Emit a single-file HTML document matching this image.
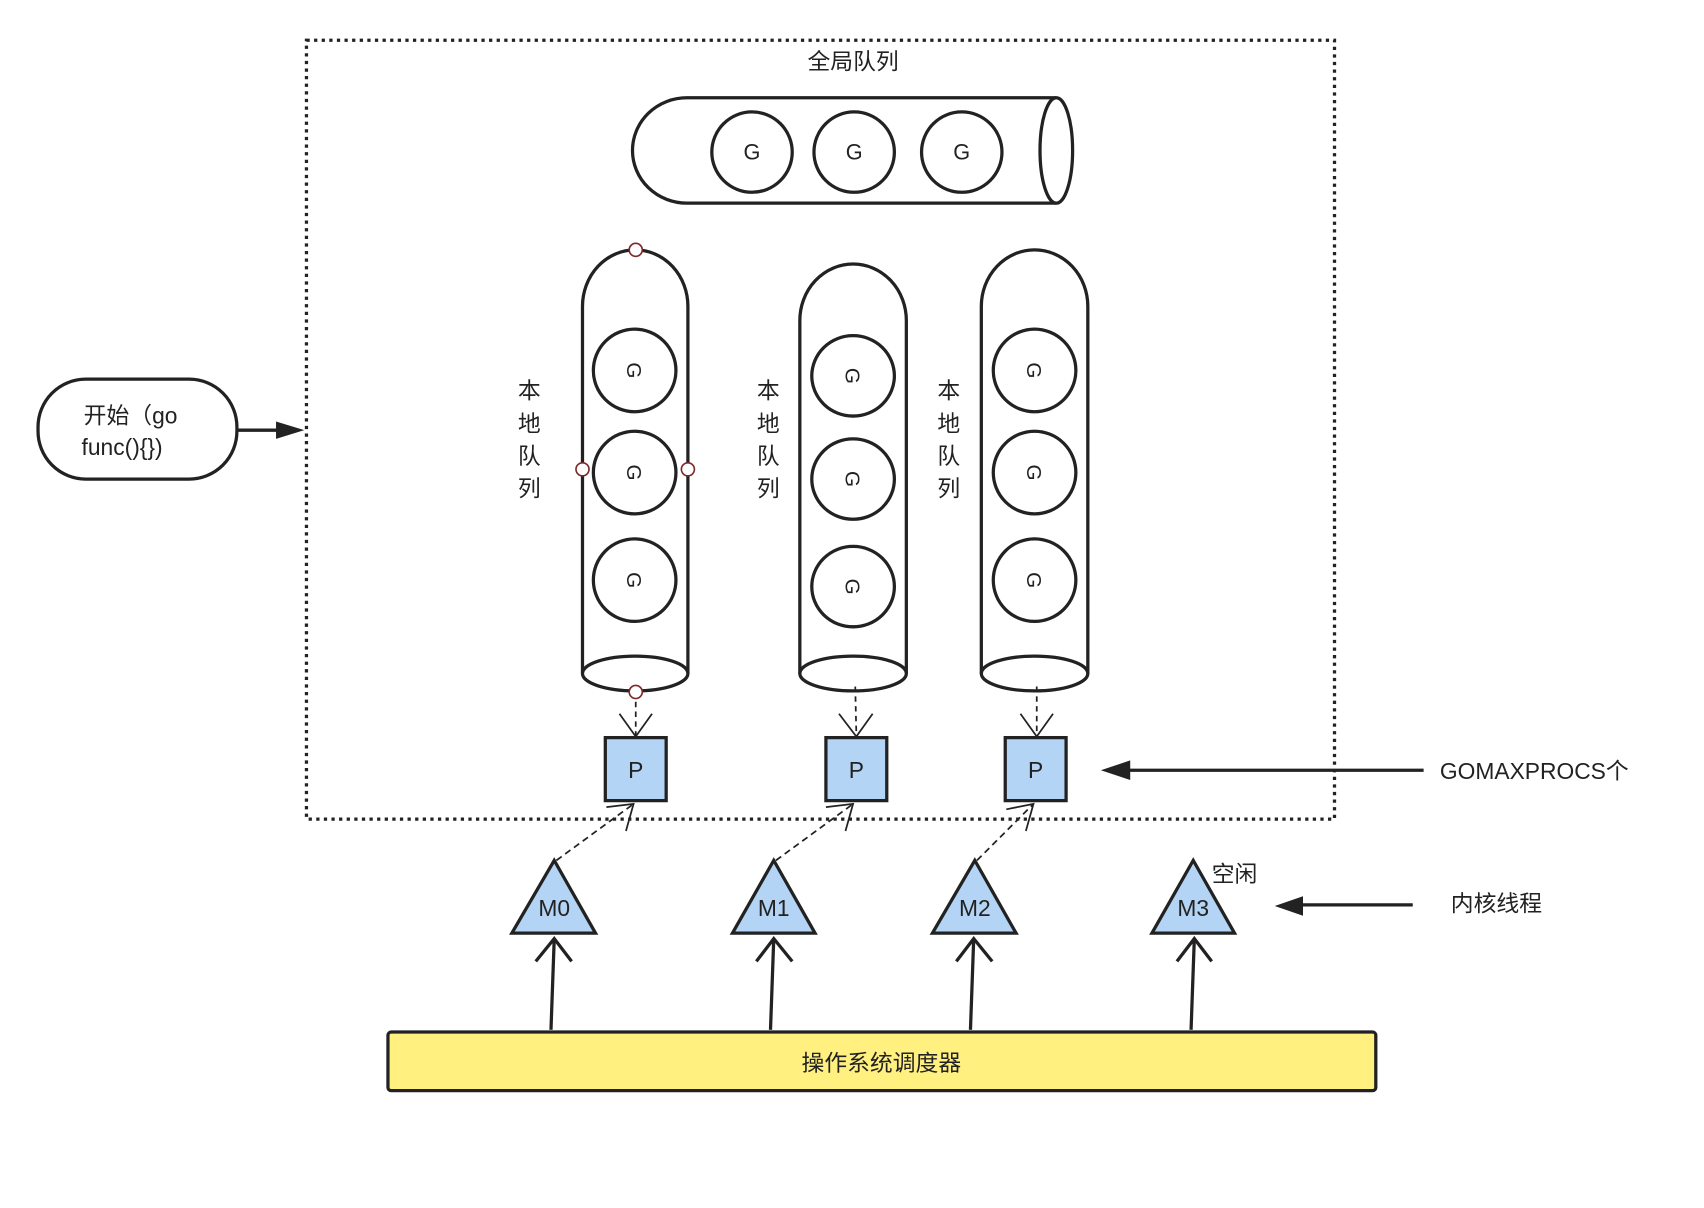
<!DOCTYPE html>
<html><head><meta charset="utf-8"><style>
html,body{margin:0;padding:0;background:#fff;}
svg{display:block;}
text{font-family:"Liberation Sans","Noto Sans CJK SC",sans-serif;fill:#222;}
</style></head><body>
<svg width="1704" height="1208" viewBox="0 0 1568 1112" preserveAspectRatio="none" xmlns="http://www.w3.org/2000/svg">
<rect x="282" y="37" width="946" height="717" fill="none" stroke="#222" stroke-width="3" stroke-dasharray="3,4"/>
<text x="785" y="64" font-size="21" text-anchor="middle">全局队列</text>
<path d="M972 90 L632 90 A50 48.5 0 0 0 632 187 L972 187" fill="#fff" stroke="#222" stroke-width="3"/>
<ellipse cx="972" cy="138.5" rx="15" ry="48.5" fill="#fff" stroke="#222" stroke-width="3"/>
<g fill="#fff" stroke="#222" stroke-width="3">
<circle cx="692" cy="140" r="37"/><circle cx="786" cy="140" r="37"/><circle cx="885" cy="140" r="37"/>
</g>
<g font-size="20" text-anchor="middle"><text x="692" y="147">G</text><text x="786" y="147">G</text><text x="885" y="147">G</text></g>
<g fill="#fff" stroke="#222" stroke-width="3">
<path d="M536 620 V282 A48.5 52 0 0 1 633 282 V620"/>
<ellipse cx="584.5" cy="620" rx="48.5" ry="16"/>
<path d="M736 620 V295 A49 52 0 0 1 834 295 V620"/>
<ellipse cx="785" cy="620" rx="49" ry="16"/>
<path d="M903 620 V282 A49 52 0 0 1 1001 282 V620"/>
<ellipse cx="952" cy="620" rx="49" ry="16"/>
<ellipse cx="584" cy="341" rx="38" ry="38"/><ellipse cx="584" cy="435" rx="38" ry="38"/><ellipse cx="584" cy="534" rx="38" ry="38"/>
<ellipse cx="785" cy="346" rx="38" ry="37"/><ellipse cx="785" cy="441" rx="38" ry="37"/><ellipse cx="785" cy="540" rx="38" ry="37"/>
<ellipse cx="952" cy="341" rx="38" ry="38"/><ellipse cx="952" cy="435" rx="38" ry="38"/><ellipse cx="952" cy="534" rx="38" ry="38"/>
</g>
<g font-size="19" text-anchor="middle">
<text transform="translate(584,341) rotate(90)" y="7">G</text>
<text transform="translate(584,435) rotate(90)" y="7">G</text>
<text transform="translate(584,534) rotate(90)" y="7">G</text>
<text transform="translate(785,346) rotate(90)" y="7">G</text>
<text transform="translate(785,441) rotate(90)" y="7">G</text>
<text transform="translate(785,540) rotate(90)" y="7">G</text>
<text transform="translate(952,341) rotate(90)" y="7">G</text>
<text transform="translate(952,435) rotate(90)" y="7">G</text>
<text transform="translate(952,534) rotate(90)" y="7">G</text>
</g>
<g font-size="21" text-anchor="middle">
<text x="487" y="367">本</text><text x="487" y="397">地</text><text x="487" y="427">队</text><text x="487" y="457">列</text>
<text x="707" y="367">本</text><text x="707" y="397">地</text><text x="707" y="427">队</text><text x="707" y="457">列</text>
<text x="873" y="367">本</text><text x="873" y="397">地</text><text x="873" y="427">队</text><text x="873" y="457">列</text>
</g>
<g fill="none" stroke="#222" stroke-width="1.6">
<path d="M585 637 V677" stroke-dasharray="5,4"/><path d="M570 657 L585 678 L600 657"/>
<path d="M787 632 L788 677" stroke-dasharray="5,4"/><path d="M772 657 L788 678 L803 657"/>
<path d="M954 632 V677" stroke-dasharray="5,4"/><path d="M939 657 L954 678 L969 657"/>
<path d="M512 792 L583 740" stroke-dasharray="6,4"/><path d="M576 765 L583 740 L558 743"/>
<path d="M714 792 L785 740" stroke-dasharray="6,4"/><path d="M778 765 L785 740 L760 743"/>
<path d="M899 792 L951 740" stroke-dasharray="6,4"/><path d="M944 765 L951 740 L926 745"/>
</g>
<g fill="#fff" stroke="#7a2a2a" stroke-width="1.5">
<circle cx="585" cy="230" r="6"/><circle cx="536" cy="432" r="6"/><circle cx="633" cy="432" r="6"/><circle cx="585" cy="637" r="6"/>
</g>
<g fill="#b3d4f5" stroke="#222" stroke-width="3">
<rect x="557" y="679" width="56" height="58"/><rect x="760" y="679" width="56" height="58"/><rect x="925" y="679" width="56" height="58"/>
</g>
<g font-size="21" text-anchor="middle"><text x="585" y="716">P</text><text x="788" y="716">P</text><text x="953" y="716">P</text></g>
<path d="M1310 709 H1035" stroke="#222" stroke-width="3"/>
<path d="M1013 709 L1040 700 L1040 718 Z" fill="#222"/>
<text x="1325" y="717" font-size="21">GOMAXPROCS个</text>
<rect x="35" y="349" width="183" height="92" rx="44" fill="#fff" stroke="#222" stroke-width="3"/>
<text x="77" y="390" font-size="21">开始（go</text>
<text x="75" y="419" font-size="21">func(){})</text>
<path d="M218 396 H260" stroke="#222" stroke-width="3"/>
<path d="M280 396 L254 388 L254 404 Z" fill="#222"/>
<g fill="#b3d4f5" stroke="#222" stroke-width="3" stroke-linejoin="miter">
<path d="M510 792 L548 859 L471 859 Z"/><path d="M712 792 L750 859 L674 859 Z"/>
<path d="M897 792 L935 859 L858 859 Z"/><path d="M1098 792 L1136 859 L1060 859 Z"/>
</g>
<g font-size="21" text-anchor="middle"><text x="510" y="843">M0</text><text x="712" y="843">M1</text><text x="897" y="843">M2</text><text x="1098" y="843">M3</text></g>
<text x="1115" y="812" font-size="21">空闲</text>
<text x="1335" y="839" font-size="21">内核线程</text>
<path d="M1300 833 H1195" stroke="#222" stroke-width="3"/>
<path d="M1173 834 L1199 825 L1199 843 Z" fill="#222"/>
<g fill="none" stroke="#222" stroke-width="3">
<path d="M507 948 L510 864"/><path d="M493 885 L510 864 L526 885"/>
<path d="M709 948 L712 864"/><path d="M696 885 L712 864 L729 885"/>
<path d="M893 948 L896 864"/><path d="M880 885 L896 864 L913 885"/>
<path d="M1096 948 L1099 864"/><path d="M1083 885 L1099 864 L1115 885"/>
</g>
<rect x="357" y="950" width="909" height="54" rx="3" fill="#fff07f" stroke="#222" stroke-width="3"/>
<text x="811" y="986" font-size="21" text-anchor="middle">操作系统调度器</text>
</svg>
</body></html>
